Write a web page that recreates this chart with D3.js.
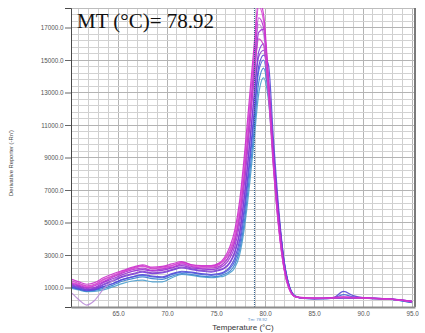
<!DOCTYPE html>
<html>
<head>
<meta charset="utf-8">
<script src="https://cdn.jsdelivr.net/npm/d3@7"></script>
<style>
  html, body { margin: 0; padding: 0; background: #fff; }
  svg { display: block; }
</style>
</head>
<body>
<svg id="chart" width="425" height="333"></svg>
<script>
// Melt-curve derivative data: one temperature axis shared by all wells
const temperatures = [60.3, 61.0, 61.8, 62.6, 63.5, 64.5, 65.5, 66.5, 67.5, 68.5,
  69.5, 70.5, 71.5, 72.5, 73.5, 74.5, 75.3, 75.8, 76.4, 76.9,
  77.4, 77.9, 78.4, 78.9, 79.35, 79.85, 80.35, 80.85, 81.4, 81.95,
  82.5, 83.1, 84.0, 85.0, 86.0, 87.0, 88.0, 89.0, 90.0, 91.0,
  92.0, 93.0, 94.0, 95.0];

const xTickValues = [65, 70, 75, 80, 85, 90, 95];
const yTickValues = [1000, 3000, 5000, 7000, 9000, 11000, 13000, 15000, 17000];
const meltTemp = 78.92;

// Derivative reporter (-Rn') per well
const wellA = [1500, 1350, 1200, 1300, 1600, 1850, 2050, 2250, 2400, 2250, 2300, 2450, 2600, 2400, 2350, 2350, 2500,
  2800, 3500, 4500, 6300, 9200, 12600, 16000, 18700, 17800, 13800, 8800, 4800, 2200, 900, 450,
  380, 360, 350, 400, 430, 400, 380, 340, 320, 280, 220, 150];
const wellB = [1300, 1200, 1050, 1150, 1450, 1750, 2000, 2150, 2300, 2200, 2200, 2350, 2500, 2350, 2250, 2300, 2450,
  2700, 3300, 4200, 5900, 8700, 12000, 15400, 18300, 17400, 13500, 8600, 4700, 2100, 850, 430,
  360, 340, 330, 370, 400, 380, 360, 330, 300, 260, 200, 120];
const wellC = [1250, 1150, 1000, 1100, 1350, 1650, 1900, 2100, 2200, 2050, 2150, 2250, 2450, 2300, 2200, 2200, 2300,
  2500, 3000, 3800, 5400, 8100, 11400, 14800, 17600, 17000, 13400, 8800, 4900, 2200, 900, 420,
  350, 330, 340, 360, 380, 370, 350, 330, 310, 270, 210, 140];
const wellD = [1200, 1100, 950, 1000, 1300, 1550, 1800, 2000, 2100, 2000, 2050, 2200, 2350, 2200, 2150, 2100, 2200,
  2350, 2800, 3500, 4900, 7400, 10600, 14000, 16700, 16900, 13800, 9300, 5300, 2400, 950, 430,
  340, 320, 330, 350, 370, 360, 350, 330, 320, 290, 230, 160];
const wellE = [1400, 1250, 1100, 1200, 1500, 1700, 1950, 2200, 2350, 2150, 2250, 2350, 2550, 2400, 2300, 2250, 2400,
  2650, 3200, 4000, 5500, 8000, 11000, 14000, 16300, 15900, 12800, 8400, 4600, 2100, 850, 420,
  360, 340, 340, 360, 390, 370, 350, 330, 300, 260, 210, 130];
const wellF = [1100, 1000, 850, 900, 1150, 1400, 1650, 1800, 1950, 1850, 1900, 2050, 2200, 2100, 2000, 1950, 2050,
  2150, 2500, 3100, 4300, 6600, 9600, 12900, 15500, 16000, 13600, 9500, 5500, 2500, 1000, 450,
  340, 320, 320, 340, 360, 350, 340, 320, 300, 270, 220, 150];
const wellG = [1150, 1050, 900, 950, 1200, 1450, 1700, 1850, 2000, 1900, 1950, 2100, 2250, 2150, 2050, 2000, 2100,
  2200, 2550, 3200, 4400, 6700, 9700, 12800, 15200, 15600, 13200, 9200, 5300, 2400, 950, 430,
  330, 320, 330, 350, 370, 360, 340, 320, 300, 260, 200, 120];
const wellH = [1000, 900, 800, 850, 1050, 1250, 1500, 1650, 1800, 1700, 1650, 1850, 2000, 1950, 1850, 1800, 1850,
  1950, 2250, 2800, 3900, 6000, 8800, 11900, 14600, 15300, 14700, 10200, 5800, 2600, 1000, 450,
  350, 330, 340, 380, 760, 500, 380, 350, 320, 280, 200, 100];
const wellI = [1050, 950, 850, 880, 1050, 1250, 1500, 1650, 1750, 1650, 1600, 1800, 1950, 1900, 1800, 1750, 1800,
  1900, 2150, 2600, 3600, 5600, 8400, 11500, 14300, 15000, 13000, 9000, 5300, 2500, 1000, 450,
  340, 320, 330, 360, 560, 420, 360, 330, 310, 270, 190, 90];
const wellJ = [1000, 900, 780, 820, 950, 1150, 1400, 1550, 1650, 1550, 1500, 1700, 1850, 1800, 1700, 1650, 1700,
  1800, 2000, 2400, 3300, 5100, 7800, 10800, 13600, 14500, 12800, 9100, 5400, 2600, 1050, 460,
  330, 310, 320, 340, 380, 370, 350, 330, 300, 260, 180, 80];
const wellK = [950, 850, 750, 760, 850, 1050, 1250, 1400, 1450, 1350, 1350, 1600, 1800, 1750, 1650, 1600, 1650,
  1700, 1900, 2200, 3000, 4700, 7200, 10200, 12900, 13900, 12500, 9000, 5400, 2600, 1050, 470,
  330, 310, 310, 330, 360, 350, 340, 320, 300, 250, 170, 70];
const wellL = [650, 250, -80, 200, 900, 1450, 1800, 2000, 2150, 2050, 2100, 2200, 2400, 2250, 2150, 2100, 2250,
  2500, 3000, 3800, 5300, 7900, 11200, 14600, 17200, 16600, 13000, 8500, 4700, 2150, 880, 430,
  340, 330, 340, 360, 380, 370, 350, 330, 310, 270, 220, 150];

// Drawing order: blues underneath, magentas on top
const wellSeries = [wellK, wellJ, wellI, wellH, wellG, wellF, wellL, wellD, wellC, wellE, wellB, wellA];
const wellColors = ["#4a9fcf", "#3a7fd0", "#4466dd", "#5648d8", "#8a46cc", "#7b3bd8",
  "#b88ad6", "#9b30d6", "#b52fd0", "#c844c4", "#d94ad6", "#cc2fcc"];

const svg = d3.select("#chart");
const plotLeft = 71, plotRight = 415, plotTop = 8, plotBottom = 307;

const x = d3.scaleLinear().domain([60.2, 95.3]).range([plotLeft, plotRight]);
const y = d3.scaleLinear().domain([-200, 18200]).range([plotBottom, plotTop]);

// Grid
const grid = svg.append("g");
grid.selectAll("line.vx")
  .data(d3.range(61, 96, 1))
  .join("line")
  .attr("x1", d => x(d)).attr("x2", d => x(d))
  .attr("y1", plotTop).attr("y2", plotBottom)
  .attr("stroke", d => d % 5 === 0 ? "#b4b4b4" : "#cfcfcf")
  .attr("stroke-width", 1)
  .attr("shape-rendering", "crispEdges");
grid.selectAll("line.hy")
  .data(d3.range(200, 18200, 400))
  .join("line")
  .attr("x1", plotLeft).attr("x2", plotRight)
  .attr("y1", d => y(d)).attr("y2", d => y(d))
  .attr("stroke", d => (d - 1000) % 2000 === 0 ? "#b4b4b4" : "#d2d2d2")
  .attr("stroke-width", 1)
  .attr("shape-rendering", "crispEdges");

// Plot frame (top and right)
svg.append("line").attr("x1", plotLeft).attr("x2", plotRight).attr("y1", plotTop).attr("y2", plotTop)
  .attr("stroke", "#bdbdbd").attr("shape-rendering", "crispEdges");
svg.append("line").attr("x1", plotRight).attr("x2", plotRight).attr("y1", plotTop).attr("y2", plotBottom)
  .attr("stroke", "#7a7a7a").attr("stroke-width", 2);

// Curves
svg.append("clipPath").attr("id", "plotClip")
  .append("rect").attr("x", plotLeft).attr("y", plotTop)
  .attr("width", plotRight - plotLeft).attr("height", plotBottom - plotTop);

const line = d3.line()
  .x((d, i) => x(temperatures[i]))
  .y(d => y(d))
  .curve(d3.curveMonotoneX);

svg.append("g").attr("clip-path", "url(#plotClip)")
  .selectAll("path")
  .data(wellSeries)
  .join("path")
  .attr("d", d => line(d))
  .attr("fill", "none")
  .attr("stroke", (d, i) => wellColors[i])
  .attr("stroke-width", 1.2)
  .attr("stroke-opacity", 0.9);

// Tm marker
svg.append("line")
  .attr("x1", x(meltTemp)).attr("x2", x(meltTemp))
  .attr("y1", plotTop).attr("y2", plotBottom)
  .attr("stroke", "#2f5f8f")
  .attr("stroke-width", 1)
  .attr("stroke-dasharray", "1,1");

// Axes
const yAxis = svg.append("g")
  .attr("transform", `translate(${plotLeft},0)`)
  .call(d3.axisLeft(y).tickValues(yTickValues).tickFormat(d => d.toFixed(1)).tickSize(6).tickPadding(1.5));
yAxis.select(".domain").attr("stroke", "#4a4a4a");
yAxis.selectAll(".tick line").attr("stroke", "#666");
yAxis.selectAll("text").attr("font-family", "Liberation Sans, Arial, sans-serif")
  .attr("font-size", "6.3px").attr("fill", "#555");

const xAxis = svg.append("g")
  .attr("transform", `translate(0,${plotBottom})`)
  .call(d3.axisBottom(x).tickValues(xTickValues).tickFormat(d3.format(".1f")).tickSize(0).tickPadding(5));
xAxis.select(".domain").attr("stroke", "#8c8c8c").attr("stroke-width", 2);
xAxis.selectAll("text").attr("font-family", "Liberation Sans, Arial, sans-serif")
  .attr("font-size", "6.3px").attr("fill", "#555");

// Tm label under the axis
svg.append("text")
  .attr("x", x(meltTemp) + 3).attr("y", 320.5)
  .attr("text-anchor", "middle")
  .attr("font-family", "Liberation Sans, Arial, sans-serif")
  .attr("font-size", "4.3px")
  .attr("fill", "#5b8fc7")
  .text(`Tm: ${meltTemp.toFixed(2)}`);

// Axis titles
svg.append("text")
  .attr("x", (plotLeft + plotRight) / 2).attr("y", 329.5)
  .attr("text-anchor", "middle")
  .attr("font-family", "Liberation Sans, Arial, sans-serif")
  .attr("font-size", "8px")
  .attr("fill", "#333")
  .text("Temperature (°C)");

svg.append("text")
  .attr("transform", "translate(13,163) rotate(-90)")
  .attr("text-anchor", "middle")
  .attr("font-family", "Liberation Sans, Arial, sans-serif")
  .attr("font-size", "5.8px")
  .attr("fill", "#444")
  .text("Derivative Reporter (-Rn')");

// Headline
svg.append("text")
  .attr("x", 77).attr("y", 28)
  .attr("font-family", "Liberation Serif, Times New Roman, serif")
  .attr("font-size", "21px")
  .attr("fill", "#111")
  .text(`MT (°C)= ${meltTemp.toFixed(2)}`);
</script>
</body>
</html>
